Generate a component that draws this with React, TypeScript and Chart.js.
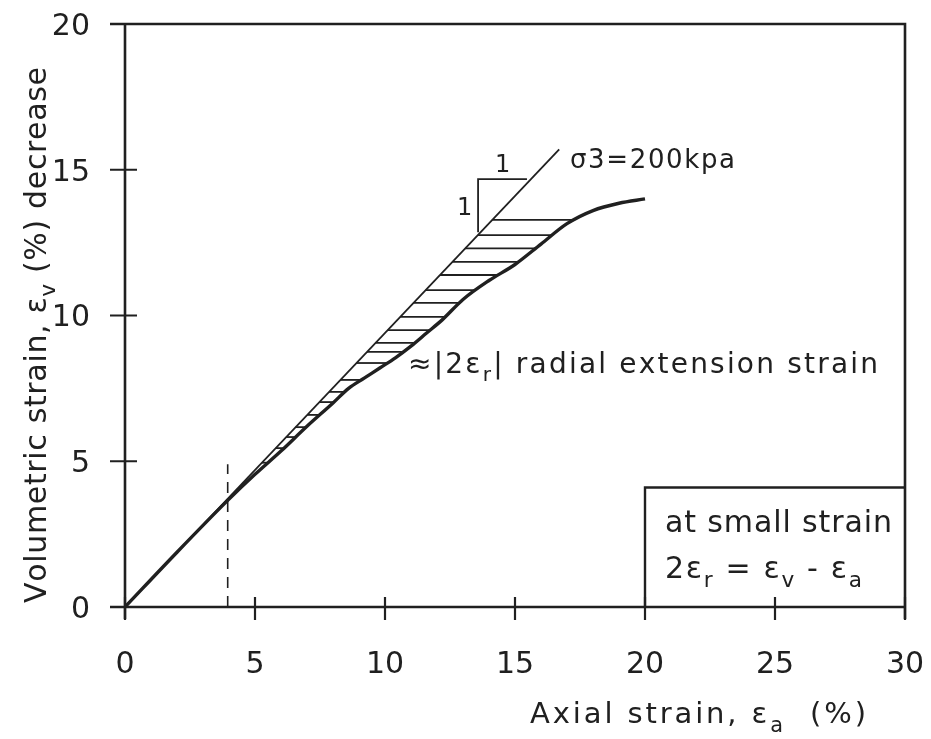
import { useEffect, useRef } from "react";
import { Chart, registerables } from "chart.js";

Chart.register(...registerables);

// Axis ticks
const xTicks = [0, 5, 10, 15, 20, 25, 30];
const yTicks = [0, 5, 10, 15, 20];

// Measured stress path, sigma3 = 200 kPa
const axialStrain = [0, 2, 4, 5, 6, 7, 8, 8.6, 9.2, 9.8, 10.4, 11, 11.6, 12.2, 13, 14, 15, 16, 17, 18, 19, 20];
const volumetricStrain = [0, 1.88, 3.7, 4.55, 5.35, 6.2, 7.0, 7.5, 7.85, 8.2, 8.55, 8.95, 9.4, 9.85, 10.55, 11.2, 11.75, 12.45, 13.15, 13.6, 13.85, 14.0];

// Straight reference line through the origin
const slopeLineX = [0, 16.7];
const slopeLineY = [0, 15.7];

// Hatching levels between the reference line and the measured curve
const hatchLevels = [4.95, 5.45, 5.83, 6.17, 6.59, 7.03, 7.38, 7.79, 8.37, 8.75, 9.06, 9.5, 9.95, 10.43, 10.87, 11.39, 11.84, 12.3, 12.76, 13.28];

// Dashed marker at small strain
const markerX = [3.95, 3.95];
const markerY = [0, 4.9];

// 1:1 slope triangle
const triangleX = [13.58, 13.58, 15.46];
const triangleY = [12.86, 14.68, 14.68];

// Note box in the lower right corner
const noteBoxX = [20, 20, 30];
const noteBoxY = [0, 4.1, 4.1];

const INK = "#202020";
const FONT = '"DejaVu Sans", "Open Sans", sans-serif';

const pts = (xs: number[], ys: number[]) => xs.map((x, i) => ({ x, y: ys[i] }));

// x on the reference line for a given volumetric strain
const lineXAt = (y: number) => (y * slopeLineX[1]) / slopeLineY[1];

// x on the measured curve for a given volumetric strain
const curveXAt = (y: number) => {
  for (let i = 1; i < volumetricStrain.length; i++) {
    const y0 = volumetricStrain[i - 1];
    const y1 = volumetricStrain[i];
    if (y >= y0 && y <= y1) {
      const t = (y - y0) / (y1 - y0);
      return axialStrain[i - 1] + t * (axialStrain[i] - axialStrain[i - 1]);
    }
  }
  return axialStrain[axialStrain.length - 1];
};

type Seg = { t: string; sub?: boolean };

// Draws text made of normal and subscript runs, spread to a given width
function drawRich(
  ctx: CanvasRenderingContext2D,
  segs: Seg[],
  x: number,
  y: number,
  size: number,
  width?: number
) {
  const subSize = size * 0.72;
  const setFont = (s: Seg) => {
    ctx.font = `${s.sub ? subSize : size}px ${FONT}`;
  };
  let raw = 0;
  let n = 0;
  for (const s of segs) {
    setFont(s);
    for (const ch of Array.from(s.t)) {
      raw += ctx.measureText(ch).width;
      n++;
    }
  }
  const gap = width ? (width - raw) / Math.max(1, n - 1) : 0;
  let cx = x;
  for (const s of segs) {
    setFont(s);
    for (const ch of Array.from(s.t)) {
      ctx.fillText(ch, cx, s.sub ? y + size * 0.3 : y);
      cx += ctx.measureText(ch).width + gap;
    }
  }
}

const decorations = {
  id: "decorations",
  afterDraw(chart: any) {
    const { ctx, scales } = chart;
    const xs = scales.x;
    const ys = scales.y;
    const X = (v: number) => xs.getPixelForValue(v);
    const Y = (v: number) => ys.getPixelForValue(v);
    const left = X(0);
    const right = X(30);
    const top = Y(20);
    const bottom = Y(0);

    ctx.save();
    ctx.strokeStyle = INK;
    ctx.fillStyle = INK;
    ctx.lineCap = "butt";

    // frame
    ctx.lineWidth = 2.6;
    ctx.beginPath();
    ctx.moveTo(left - 15, top);
    ctx.lineTo(right, top);
    ctx.lineTo(right, bottom + 12);
    ctx.moveTo(left, top);
    ctx.lineTo(left, bottom + 12);
    ctx.moveTo(left - 15, bottom);
    ctx.lineTo(right, bottom);
    ctx.stroke();

    // tick marks crossing the axes
    ctx.lineWidth = 2.2;
    ctx.beginPath();
    for (const v of yTicks) {
      ctx.moveTo(left - 15, Y(v));
      ctx.lineTo(left + 12, Y(v));
    }
    for (const v of xTicks) {
      ctx.moveTo(X(v), bottom - 10);
      ctx.lineTo(X(v), bottom + 13);
    }
    ctx.stroke();

    // tick labels
    ctx.font = `30px ${FONT}`;
    ctx.textBaseline = "middle";
    ctx.textAlign = "right";
    for (const v of yTicks) ctx.fillText(String(v), left - 35, Y(v) + 3);
    ctx.textAlign = "center";
    for (const v of xTicks) ctx.fillText(String(v), X(v), bottom + 58);

    ctx.textBaseline = "alphabetic";
    ctx.textAlign = "left";

    // axis titles
    drawRich(ctx, [{ t: "Axial strain, ε" }, { t: "a", sub: true }, { t: "  (%)" }], 530, 723, 29, 336);
    ctx.save();
    ctx.translate(46, 603);
    ctx.rotate(-Math.PI / 2);
    drawRich(
      ctx,
      [{ t: "Volumetric strain, ε" }, { t: "v", sub: true }, { t: " (%) decrease" }],
      0,
      0,
      30,
      536
    );
    ctx.restore();

    // curve annotations
    drawRich(ctx, [{ t: "σ3=200kpa" }], 570, 168, 26, 165);
    drawRich(ctx, [{ t: "1" }], 495, 172, 24);
    drawRich(ctx, [{ t: "1" }], 457, 215, 24);
    drawRich(
      ctx,
      [{ t: "≈|2ε" }, { t: "r", sub: true }, { t: "| radial extension strain" }],
      408,
      373,
      28,
      470
    );

    // note box text
    drawRich(ctx, [{ t: "at small strain" }], 665, 532, 30, 227);
    drawRich(
      ctx,
      [{ t: "2ε" }, { t: "r", sub: true }, { t: " = ε" }, { t: "v", sub: true }, { t: " - ε" }, { t: "a", sub: true }],
      665,
      578,
      30,
      197
    );

    ctx.restore();
  },
};

export default function App() {
  const ref = useRef<HTMLCanvasElement | null>(null);

  useEffect(() => {
    if (!ref.current) return;

    const thin = {
      borderColor: INK,
      pointRadius: 0,
      fill: false,
      tension: 0,
    };

    const hatchSets = hatchLevels.map((y) => ({
      ...thin,
      borderWidth: 1.8,
      data: [
        { x: lineXAt(y), y },
        { x: curveXAt(y), y },
      ],
    }));

    const chart = new Chart(ref.current, {
      type: "line",
      data: {
        datasets: [
          {
            ...thin,
            borderWidth: 3.4,
            tension: 0.4,
            cubicInterpolationMode: "monotone",
            data: pts(axialStrain, volumetricStrain),
          },
          { ...thin, borderWidth: 1.8, data: pts(slopeLineX, slopeLineY) },
          ...hatchSets,
          { ...thin, borderWidth: 1.6, borderDash: [11, 8], data: pts(markerX, markerY) },
          { ...thin, borderWidth: 1.8, data: pts(triangleX, triangleY) },
          { ...thin, borderWidth: 2.4, data: pts(noteBoxX, noteBoxY) },
        ] as any,
      },
      options: {
        animation: false,
        responsive: true,
        maintainAspectRatio: false,
        events: [],
        layout: { padding: { top: 24, right: 26, left: 0, bottom: 0 } },
        plugins: { legend: { display: false }, tooltip: { enabled: false } },
        scales: {
          x: {
            type: "linear",
            min: 0,
            max: 30,
            afterBuildTicks: (s: any) => {
              s.ticks = xTicks.map((value) => ({ value }));
            },
            afterFit: (s: any) => {
              s.height = 132;
            },
            grid: { display: false, drawTicks: false },
            border: { display: false },
            ticks: { display: false },
          },
          y: {
            type: "linear",
            min: 0,
            max: 20,
            afterBuildTicks: (s: any) => {
              s.ticks = yTicks.map((value) => ({ value }));
            },
            afterFit: (s: any) => {
              s.width = 125;
            },
            grid: { display: false, drawTicks: false },
            border: { display: false },
            ticks: { display: false },
          },
        },
      },
      plugins: [decorations],
    });

    return () => chart.destroy();
  }, []);

  return (
    <div
      style={{
        position: "fixed",
        left: 0,
        top: 0,
        width: 931,
        height: 739,
        background: "#fff",
      }}
    >
      <canvas ref={ref} />
    </div>
  );
}
